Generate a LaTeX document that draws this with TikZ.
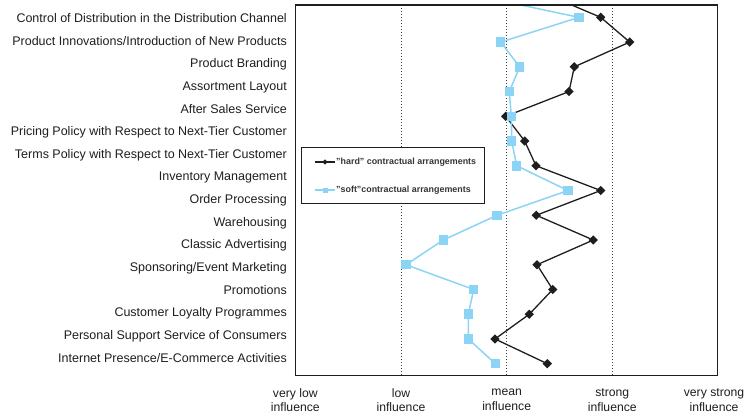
\documentclass[tikz,border=0pt]{standalone}
\usepackage{fontspec}
\setmainfont{Liberation Sans}
\usetikzlibrary{shapes.geometric}
\definecolor{skyb}{RGB}{140,212,245}
\definecolor{ink}{RGB}{30,30,30}
\begin{document}
\begin{tikzpicture}[x=1pt,y=-1pt,
  lbl/.style={anchor=base east, font=\fontsize{12.5}{14}\selectfont, inner sep=0pt, text=ink},
  axlbl/.style={align=center, font=\fontsize{12.2}{14.6}\selectfont, inner sep=0pt, text=ink},
  gridline/.style={line width=0.9pt, dash pattern=on 0.9pt off 2.1pt, color=ink!85},
  frame/.style={draw=ink, line width=1.1pt},
  hardline/.style={line width=1.3pt, draw=ink},
  softline/.style={line width=1.5pt, draw=skyb},
  hmark/.style={diamond, fill=ink, minimum size=9.5pt, inner sep=0pt},
  smark/.style={rectangle, fill=skyb, minimum size=9.5pt, inner sep=0pt},
  legtext/.style={anchor=west, font=\fontsize{8.9}{10}\selectfont\bfseries, inner sep=0.5pt, text=ink!90}
]
\useasboundingbox (0,0) rectangle (751,416);
% category labels
\foreach \t [count=\i from 0] in {
  Control of Distribution in the Distribution Channel,
  Product Innovations/Introduction of New Products,
  Product Branding,
  Assortment Layout,
  After Sales Service,
  Pricing Policy with Respect to Next-Tier Customer,
  Terms Policy with Respect to Next-Tier Customer,
  Inventory Management,
  Order Processing,
  Warehousing,
  Classic Advertising,
  Sponsoring/Event Marketing,
  Promotions,
  Customer Loyalty Programmes,
  Personal Support Service of Consumers,
  Internet Presence/E-Commerce Activities}
  \node[lbl] (cat\i) at (287,{22.4+22.65*\i}) {\t};
% grid
\foreach \x [count=\k] in {401,506.7,612.3}
  {\coordinate (gt\k) at (\x,5); \coordinate (gb\k) at (\x,375.7);
   \draw[gridline] (gt\k) -- (gb\k);}
% axis labels
\node[axlbl] (ax1) at (295.3,400) {very low\\influence};
\node[axlbl] (ax2) at (401,400) {low\\influence};
\node[axlbl] (ax3) at (506.7,400) {mean\\influence};
\node[axlbl] (ax4) at (612.3,400) {strong\\influence};
\node[axlbl] (ax5) at (714,400) {very strong\\influence};
% data
\foreach \x [count=\i from 0] in {542.5,600.7,629.7,574.3,569,505.7,524.7,536,600.7,536.3,593.3,537,552.7,529.3,495,547.3}
  \coordinate (h\i) at (\x,{-7.4+24.74*\i});
\foreach \x [count=\i from 0] in {462,579,500.7,519.7,509.3,511.3,511.7,516.7,568,497,443.3,406,473.7,468.3,468.3,495.3}
  \coordinate (s\i) at (\x,{-7.4+24.74*\i});
\begin{scope}
  \clip (295.3,5) rectangle (717.3,375.7);
  \draw[hardline] (h0) \foreach \i in {1,...,15}{ -- (h\i)};
  \foreach \i in {1,...,15} \node[hmark] (hm\i) at (h\i) {};
  \draw[softline] (s0) \foreach \i in {1,...,15}{ -- (s\i)};
  \foreach \i in {1,...,15} \node[smark] (sm\i) at (s\i) {};
\end{scope}
% frame
\node[frame, minimum width=422pt, minimum height=370.7pt, inner sep=0pt] (plot) at (506.3,190.35) {};
% legend
\node[draw=ink, line width=0.9pt, fill=white, minimum width=183.4pt, minimum height=56pt, inner sep=0pt] (leg) at (393,175.3) {};
\coordinate (la1) at (314.7,162); \coordinate (lb1) at (335,162);
\draw[hardline, line width=1.1pt] (la1) -- (lb1);
\node[hmark, minimum size=5.5pt] (lm1) at (325,162) {};
\node[legtext] (lt1) at (335.5,162) {"hard" contractual arrangements};
\coordinate (la2) at (314.7,190); \coordinate (lb2) at (335,190);
\draw[softline, line width=1.1pt] (la2) -- (lb2);
\node[smark, minimum size=5pt] (lm2) at (325,190) {};
\node[legtext] (lt2) at (335.5,190) {"soft"contractual arrangements};
\end{tikzpicture}
\end{document}
